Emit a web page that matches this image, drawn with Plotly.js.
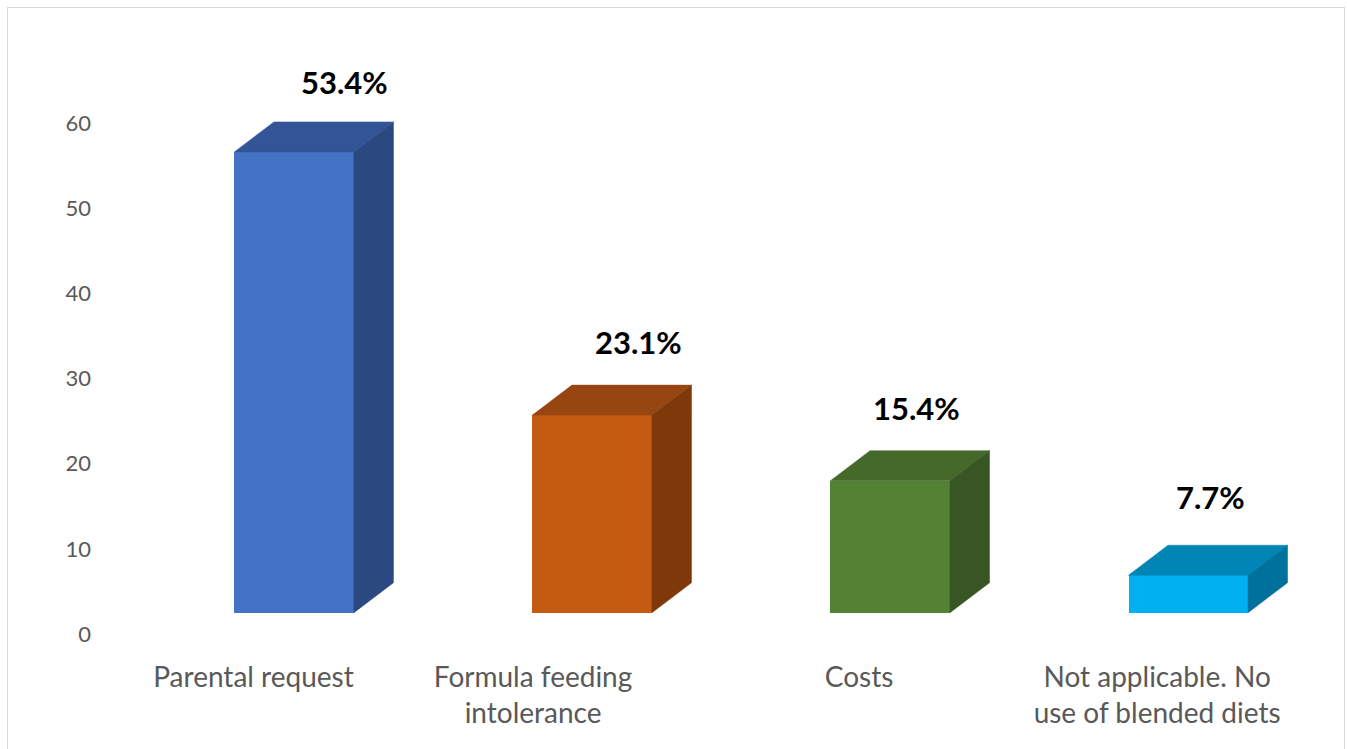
<!DOCTYPE html>
<html>
<head>
<meta charset="utf-8">
<script src="https://cdn.plot.ly/plotly-3.0.1.min.js"></script>
<style>
  html, body { margin: 0; padding: 0; background: #ffffff; }
  #chart { width: 1347px; height: 749px; }
  #frame { position: absolute; left: 7px; top: 7px; width: 1336px; height: 760px;
           border: 1px solid #D9D9D9; pointer-events: none; }
</style>
</head>
<body>
<div id="chart"></div>
<div id="frame"></div>
<script>
// ---- data ----
const categories = ['Parental request', 'Formula feeding<br>intolerance', 'Costs', 'Not applicable. No<br>use of blended diets'];
const barValues = [54.1, 23.2, 15.5, 4.4];          // bar heights
const valueLabels = ['53.4%', '23.1%', '15.4%', '7.7%'];
const yTickValues = [0, 10, 20, 30, 40, 50, 60];

// ---- style ----
const frontColors = ['#4472C4', '#C55A11', '#548235', '#00B0F0'];
const topColors   = ['#335597', '#984611', '#44692A', '#0085B7'];
const sideColors  = ['#2B4880', '#7E380A', '#375623', '#00719C'];
const labelXShift = [31, 27, 7, 2];
const labelYShift = [40, 43, 43, 48];
const tickShift   = [0, -0.062, 0.032, 0.032];  // category label placement tweaks

const floorLevel = 2.5;   // 3D floor offset (axis units)
const barOffset = -0.064; // bar front face start relative to category
const barWidth = 0.401;
const depthX = 0.1326;    // oblique depth in category units
const depthY = 3.52;      // oblique depth in value units

const xIdx = categories.map((c, i) => i);

const traces = [];
traces.push({
  type: 'bar',
  x: xIdx,
  y: barValues,
  base: barValues.map(() => floorLevel),
  offset: barOffset,
  width: barWidth,
  marker: { color: frontColors, line: { width: 0 } },
  hoverinfo: 'skip',
  showlegend: false
});

xIdx.forEach((i) => {
  const xl = i + barOffset, xr = xl + barWidth;
  const top = floorLevel + barValues[i];
  // top face
  traces.push({
    type: 'scatter', mode: 'lines', fill: 'toself',
    x: [xl, xr, xr + depthX, xl + depthX, xl],
    y: [top, top, top + depthY, top + depthY, top],
    fillcolor: topColors[i], line: { width: 0.5, color: topColors[i] },
    hoverinfo: 'skip', showlegend: false
  });
  // side face
  traces.push({
    type: 'scatter', mode: 'lines', fill: 'toself',
    x: [xr, xr, xr + depthX, xr + depthX, xr],
    y: [floorLevel, top, top + depthY, floorLevel + depthY, floorLevel],
    fillcolor: sideColors[i], line: { width: 0.5, color: sideColors[i] },
    hoverinfo: 'skip', showlegend: false
  });
});

const annotations = xIdx.map((i) => ({
  x: i + barOffset + barWidth / 2 + depthX / 2,
  y: floorLevel + barValues[i] + depthY,
  xref: 'x', yref: 'y',
  text: '<b>' + valueLabels[i] + '</b>',
  showarrow: false,
  xanchor: 'center', yanchor: 'middle',
  xshift: labelXShift[i], yshift: labelYShift[i],
  font: { family: 'Lato, sans-serif', size: 31, color: '#000000' }
}));

const layout = {
  width: 1347, height: 749,
  margin: { l: 100, r: 20, t: 60, b: 99 },
  paper_bgcolor: '#ffffff', plot_bgcolor: '#ffffff',
  showlegend: false,
  bargap: 0,
  xaxis: {
    range: [-0.515, 3.602],
    tickmode: 'array', tickvals: xIdx.map((i) => i + tickShift[i]), ticktext: categories,
    showgrid: false, zeroline: false, showline: false, ticks: '',
    ticklabelstandoff: 8,
    tickfont: { family: 'Lato, sans-serif', size: 28, color: '#595959' },
    fixedrange: true
  },
  yaxis: {
    range: [-1.879, 67.39],
    tickmode: 'array', tickvals: yTickValues, ticktext: yTickValues.map(String),
    showgrid: false, zeroline: false, showline: false, ticks: '',
    ticklabelstandoff: 8,
    tickfont: { family: 'Lato, sans-serif', size: 22, color: '#595959' },
    fixedrange: true
  },
  annotations: annotations
};

Plotly.newPlot('chart', traces, layout, { displayModeBar: false, staticPlot: true });
</script>
</body>
</html>
